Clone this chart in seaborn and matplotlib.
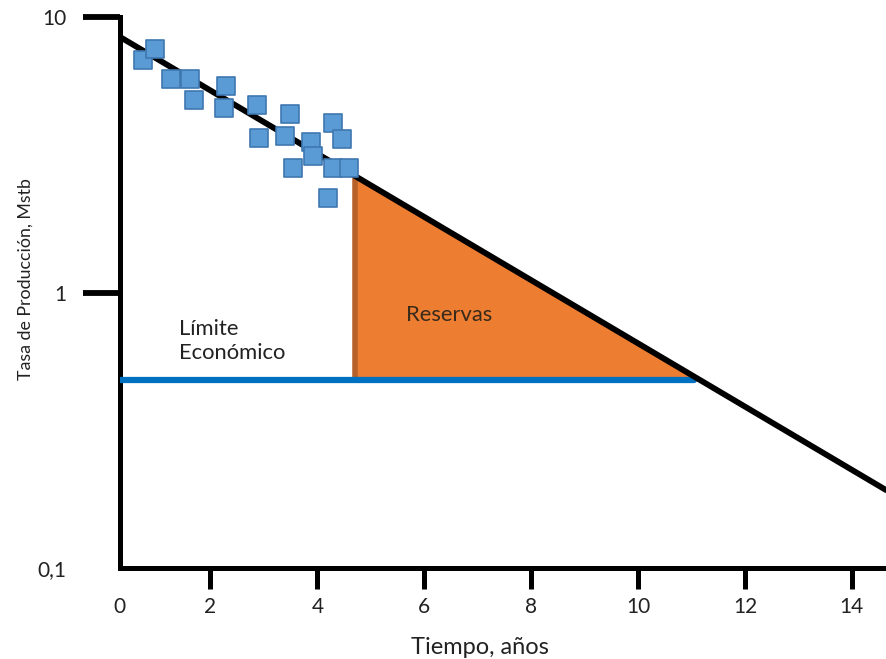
import matplotlib
matplotlib.use("Agg")
import matplotlib.pyplot as plt
import seaborn as sns
import pandas as pd

# Production history (time in years, rate in Mstb)
hist_t = [0.73, 0.97, 1.27, 1.61, 1.69, 2.29, 2.25, 2.88, 2.90, 3.48,
          3.39, 4.29, 4.46, 3.88, 3.91, 3.54, 4.29, 4.59, 4.20]
hist_q = [6.98, 7.65, 5.96, 5.96, 5.00, 5.62, 4.67, 4.79, 3.64, 4.45,
          3.70, 4.12, 3.61, 3.52, 3.13, 2.83, 2.83, 2.83, 2.20]

# Exponential decline trend (straight on semilog axes)
trend_t = [0.34, 14.64]
trend_q = [8.40, 0.192]

# Economic limit and reserves window
econ_limit = 0.48
econ_t = [0.3, 11.05]
reserves_t0 = 4.70
reserves_q0 = 2.65
reserves_t1 = 11.10

x_ticks = [0.3, 2, 4, 6, 8, 10, 12, 14]
x_labels = ["0", "2", "4", "6", "8", "10", "12", "14"]
y_ticks = [0.1, 1, 10]
y_labels = ["0,1", "1", "10"]

sns.set_theme(style="white")
plt.rcParams["font.family"] = ["Lato", "DejaVu Sans"]

fig = plt.figure(figsize=(8.86, 6.59), dpi=100)
ax = fig.add_axes([0.135, 0.138, 0.865, 0.836])
ax.set_yscale("log")

# Reserves triangle
ax.fill([reserves_t0, reserves_t0, reserves_t1],
        [reserves_q0, econ_limit, econ_limit],
        color="#ED7D31", zorder=1)
ax.plot([reserves_t0, reserves_t0], [reserves_q0, econ_limit],
        color="#B8602A", lw=4, solid_capstyle="butt", zorder=2)

# Economic limit
econ_df = pd.DataFrame({"t": econ_t, "q": [econ_limit, econ_limit]})
sns.lineplot(data=econ_df, x="t", y="q", ax=ax, color="#0070C0", lw=4.5,
             zorder=3)

# Decline trend
trend_df = pd.DataFrame({"t": trend_t, "q": trend_q})
sns.lineplot(data=trend_df, x="t", y="q", ax=ax, color="black", lw=4.2,
             zorder=4)

# Production history
hist_df = pd.DataFrame({"t": hist_t, "q": hist_q})
sns.scatterplot(data=hist_df, x="t", y="q", ax=ax, marker="s", s=150,
                color="#5B9BD5", edgecolor="#3F78B0", linewidth=1.2,
                zorder=5)

ax.set_xlim(0.3, 14.64)
ax.set_ylim(0.1, 10)

for side in ["top", "right"]:
    ax.spines[side].set_visible(False)
for side in ["left", "bottom"]:
    ax.spines[side].set_linewidth(3.6)
    ax.spines[side].set_color("black")

ax.set_xticks(x_ticks)
ax.set_xticklabels(x_labels)
ax.set_yticks(y_ticks)
ax.set_yticklabels(y_labels)
ax.minorticks_off()
ax.tick_params(axis="x", bottom=True, direction="out", length=15, width=3.6,
               color="black", pad=6, labelsize=15, labelcolor="#222222")
ax.tick_params(axis="y", left=True, direction="out", length=27, width=4.2,
               color="black", pad=11, labelsize=15, labelcolor="#222222")
ax.xaxis.get_major_ticks()[0].tick1line.set_visible(False)
ax.yaxis.get_major_ticks()[0].tick1line.set_visible(False)

ax.set_xlabel("Tiempo, años", fontsize=17, color="#222222")
ax.set_ylabel("Tasa de Producción, Mstb", fontsize=12.8, color="#222222")
ax.xaxis.set_label_coords(0.47, -0.125)
ax.yaxis.set_label_coords(-0.112, 0.525)

ax.text(1.42, 0.667, "Límite\nEconómico", fontsize=15.8, color="#222222",
        ha="left", va="center", linespacing=1.2)
ax.text(5.65, 0.83, "Reservas", fontsize=15.8, color="#3A2A1A",
        ha="left", va="center")

ax.grid(False)
fig.savefig("out.png", dpi=100)
